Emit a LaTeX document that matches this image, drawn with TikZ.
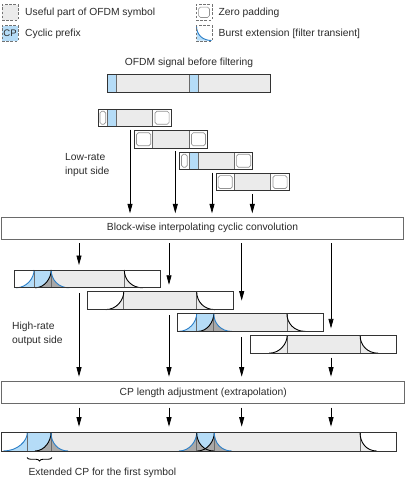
\documentclass[tikz,border=0pt]{standalone}
\usepackage{fontspec}
\setmainfont{Liberation Sans}
\usetikzlibrary{arrows.meta,decorations.pathreplacing}
\definecolor{lgrey}{HTML}{EBEBEB}
\definecolor{dgrey}{HTML}{A8A8A8}
\definecolor{lblue}{HTML}{B5DCF7}
\definecolor{bline}{HTML}{2B7FC8}
\definecolor{bord}{HTML}{333333}
\definecolor{divc}{HTML}{6A6A6A}
\definecolor{txtc}{HTML}{2A2A2A}
\def\hh{17.8}
\newcommand\RiseCurve[3]{\path[#3] (#1,\hh) .. controls ({#1+0.6*(#2-#1)},\hh) and (#2,{0.45*\hh}) .. (#2,0);}
\newcommand\RiseArea[3]{\fill[#3] (#1,\hh) .. controls ({#1+0.6*(#2-#1)},\hh) and (#2,{0.45*\hh}) .. (#2,0) -- (#2,\hh) -- cycle;}
\newcommand\FallCurve[3]{\path[#3] (#1,0) .. controls (#1,{0.55*\hh}) and ({#1+0.4*(#2-#1)},\hh) .. (#2,\hh);}
\newcommand\FallArea[3]{\fill[#3] (#1,0) .. controls (#1,{0.55*\hh}) and ({#1+0.4*(#2-#1)},\hh) .. (#2,\hh) -- (#1,\hh) -- cycle;}
\newcommand\LRA{%
 \fill[white] (0,0) rectangle (73.2,17.5);
 \fill[lblue] (9.6,0) rectangle (18.4,17.5);
 \fill[lgrey] (18.4,0) rectangle (54.8,17.5);
 \draw[div] (9.6,0) -- (9.6,17.5) (18.4,0) -- (18.4,17.5) (54.8,0) -- (54.8,17.5);
 \draw[zpin] (1.9,2.3) rectangle (7.7,15.2);
 \draw[zpin] (57,2.3) rectangle (71.1,15.2);
}
\newcommand\LRB{%
 \fill[white] (0,0) rectangle (73.2,17.5);
 \fill[lgrey] (18.4,0) rectangle (54.8,17.5);
 \draw[div] (18.4,0) -- (18.4,17.5) (54.8,0) -- (54.8,17.5);
 \draw[zpin] (2.1,2.3) rectangle (16.3,15.2);
 \draw[zpin] (57,2.3) rectangle (71.1,15.2);
}
\newcommand\HRA{%
 \fill[white] (0,0) rectangle (146,\hh);
 \fill[lblue] (19.4,0) rectangle (36.5,\hh);
 \fill[lgrey] (36.5,0) rectangle (109.6,\hh);
 \RiseArea{1.3}{19.4}{lblue}
 \RiseArea{20.5}{36.5}{dgrey}
 \FallArea{36.5}{54.5}{dgrey}
 \FallArea{109.6}{128}{lgrey}
 \draw[div] (19.4,0) -- (19.4,\hh) (36.5,0) -- (36.5,\hh) (109.6,0) -- (109.6,\hh);
 \RiseCurve{1.3}{19.4}{bcurve}
 \RiseCurve{20.5}{36.5}{kcurve}
 \FallCurve{36.5}{54.5}{bcurve}
 \FallCurve{109.6}{128}{kcurve}
}
\newcommand\HRB{%
 \fill[white] (0,0) rectangle (146,\hh);
 \fill[lgrey] (36.5,0) rectangle (109.4,\hh);
 \RiseArea{18.5}{36.5}{lgrey}
 \FallArea{109.4}{127.5}{lgrey}
 \draw[div] (36.5,0) -- (36.5,\hh) (109.4,0) -- (109.4,\hh);
 \RiseCurve{18.5}{36.5}{kcurve}
 \FallCurve{109.4}{127.5}{kcurve}
}
\begin{document}
\begin{tikzpicture}[x=1pt,y=-1pt,
  blk/.style={draw=bord, line width=1pt, inner sep=0pt, outer sep=0pt, anchor=north west},
  procbox/.style={draw=divc, line width=0.9pt, inner sep=0pt, outer sep=0pt, anchor=north west, font=\fontsize{10.3}{12.5}\selectfont, text=txtc},
  div/.style={draw=divc, line width=0.7pt},
  zpin/.style={draw=gray!85, fill=white, rounded corners=1.8pt, line width=0.7pt},
  bcurve/.style={draw=bline, line width=0.9pt},
  kcurve/.style={draw=black, line width=0.9pt},
  leg/.style={draw=gray!90!black, line width=0.8pt, dash pattern=on 2.6pt off 1.6pt, inner sep=0pt, outer sep=0pt, anchor=north west, minimum width=16pt, minimum height=15.5pt},
  lbl/.style={font=\fontsize{10.3}{13.5}\selectfont, text=txtc, inner sep=0pt},
  arr/.style={draw=black, line width=0.75pt, -{Triangle[length=9.5pt,width=5pt]}}]
\useasboundingbox (0,0) rectangle (407,485);
% ---------- legend
\node[leg, fill=lgrey] (legU) at (2,4.5) {};
\node[lbl, anchor=west] (tU) at (25,12.7) {Useful part of OFDM symbol};
\node[leg, fill=lblue, font=\fontsize{9.5}{10}\selectfont, text=txtc] (legC) at (2,25.5) {CP};
\node[lbl, anchor=west] (tC) at (25,33.6) {Cyclic prefix};
\node[leg, fill=white] (legZ) at (196,4.5) {};
\draw[zpin] ([shift={(2.6pt,-2.6pt)}]legZ.north west) rectangle ([shift={(-2.6pt,2.6pt)}]legZ.south east);
\node[lbl, anchor=west] (tZ) at (218.5,12.7) {Zero padding};
\fill[lblue] (196.5,26) .. controls (196.5,35) and (203,40.5) .. (211.5,40.5) -- (196.5,40.5) -- cycle;
\draw[bcurve] (196.5,26) .. controls (196.5,35) and (203,40.5) .. (211.5,40.5);
\node[leg] (legB) at (196,25.5) {};
\node[lbl, anchor=west] (tB) at (218.5,33.6) {Burst extension [filter transient]};
% ---------- top signal
\node[lbl] (ttop) at (189,63) {OFDM signal before filtering};
\begin{scope}[shift={(107.6,74)}]
 \fill[lblue] (0,0) rectangle (8.8,18.3);
 \fill[lgrey] (8.8,0) rectangle (81.6,18.3);
 \fill[lblue] (81.6,0) rectangle (90.4,18.3);
 \fill[lgrey] (90.4,0) rectangle (163.2,18.3);
 \draw[div] (8.8,0) -- (8.8,18.3) (81.6,0) -- (81.6,18.3) (90.4,0) -- (90.4,18.3);
\end{scope}
\node[blk, minimum width=163.2pt, minimum height=18.3pt] (top) at (107.6,74) {};
% ---------- low-rate blocks
\begin{scope}[shift={(98,109)}]\LRA\end{scope}
\node[blk, minimum width=73.2pt, minimum height=17.5pt] (lr1) at (98,109) {};
\begin{scope}[shift={(134.4,130.5)}]\LRB\end{scope}
\node[blk, minimum width=73.2pt, minimum height=17.5pt] (lr2) at (134.4,130.5) {};
\begin{scope}[shift={(179.6,152)}]\LRA\end{scope}
\node[blk, minimum width=73.2pt, minimum height=17.5pt] (lr3) at (179.6,152) {};
\begin{scope}[shift={(216,173.3)}]\LRB\end{scope}
\node[blk, minimum width=73.2pt, minimum height=17.5pt] (lr4) at (216,173.3) {};
\node[lbl, anchor=west, align=left] (tlow) at (65,165) {Low-rate\\input side};
% ---------- convolution box
\node[procbox, minimum width=401.6pt, minimum height=22pt] (conv) at (1.7,217.3) {Block-wise interpolating cyclic convolution};
% ---------- high-rate blocks
\begin{scope}[shift={(14.7,270)}]\HRA\end{scope}
\node[blk, minimum width=146pt, minimum height=17.8pt] (hr1) at (14.7,270) {};
\begin{scope}[shift={(87.3,291.8)}]\HRB\end{scope}
\node[blk, minimum width=146pt, minimum height=17.8pt] (hr2) at (87.3,291.8) {};
\begin{scope}[shift={(177.3,313.6)}]\HRA\end{scope}
\node[blk, minimum width=146pt, minimum height=17.8pt] (hr3) at (177.3,313.6) {};
\begin{scope}[shift={(250.7,335.4)}]\HRB\end{scope}
\node[blk, minimum width=146pt, minimum height=17.8pt] (hr4) at (250.7,335.4) {};
\node[lbl, anchor=west, align=left] (thigh) at (12,334) {High-rate\\output side};
% ---------- CP adjustment box
\node[procbox, minimum width=403pt, minimum height=21.6pt] (cpa) at (1.7,381.7) {CP length adjustment (extrapolation)};
% ---------- final bar
\begin{scope}[shift={(1.7,432.7)}]
 \def\hh{18.3}
 \fill[white] (0,0) rectangle (395,\hh);
 \fill[lgrey] (49.3,0) rectangle (358.3,\hh);
 \fill[lblue] (25.6,0) rectangle (49.3,\hh);
 \fill[lblue] (195,0) rectangle (212.6,\hh);
 \RiseArea{1.6}{25.6}{lblue}
 \RiseArea{33.3}{49.3}{dgrey}
 \FallArea{49.3}{66.5}{dgrey}
 \RiseArea{177.3}{195}{dgrey}
 \RiseArea{195.6}{212.6}{dgrey}
 \FallArea{195}{212.2}{dgrey}
 \FallArea{212.6}{230}{dgrey}
 \FallArea{358.3}{375}{lgrey}
 \draw[div] (25.6,0) -- (25.6,\hh) (49.3,0) -- (49.3,\hh) (195,0) -- (195,\hh) (212.6,0) -- (212.6,\hh) (358.3,0) -- (358.3,\hh);
 \RiseCurve{1.6}{25.6}{bcurve}
 \RiseCurve{33.3}{49.3}{kcurve}
 \FallCurve{49.3}{66.5}{bcurve}
 \RiseCurve{177.3}{195}{bcurve}
 \RiseCurve{195.6}{212.6}{kcurve}
 \FallCurve{195}{212.2}{kcurve}
 \FallCurve{212.6}{230}{bcurve}
 \FallCurve{358.3}{375}{kcurve}
\end{scope}
\node[blk, minimum width=395pt, minimum height=18.3pt] (fin) at (1.7,432.7) {};
\coordinate (bl) at (27,457.5);
\coordinate (br) at (52,457.5);
\draw[decorate, decoration={brace, mirror, amplitude=3.5pt}, line width=0.9pt] (bl) -- (br);
\node[lbl, anchor=west] (text) at (28.3,473.3) {Extended CP for the first symbol};
% ---------- arrow columns
\coordinate (ua) at (130,0);
\coordinate (ub) at (175.3,0);
\coordinate (uc) at (212,0);
\coordinate (ud) at (252.3,0);
\coordinate (ma) at (79,0);
\coordinate (mb) at (169,0);
\coordinate (mc) at (241.7,0);
\coordinate (md) at (331,0);
% upper arrows
\draw[arr] ([yshift=-3pt]lr1.south -| ua) -- ([yshift=4pt]conv.north -| ua);
\draw[arr] ([yshift=-3pt]lr2.south -| ub) -- ([yshift=4pt]conv.north -| ub);
\draw[arr] ([yshift=-3pt]lr3.south -| uc) -- ([yshift=4pt]conv.north -| uc);
\draw[arr] ([yshift=-3pt]lr4.south -| ud) -- ([yshift=4pt]conv.north -| ud);
% middle arrows
\draw[arr] ([yshift=-4pt]conv.south -| ma) -- ([yshift=5pt]hr1.north -| ma);
\draw[arr] ([yshift=-4pt]conv.south -| mb) -- ([yshift=7pt]hr2.north -| mb);
\draw[arr] ([yshift=-4pt]conv.south -| mc) -- ([yshift=13pt]hr3.north -| mc);
\draw[arr] ([yshift=-4pt]conv.south -| md) -- ([yshift=7pt]hr4.north -| md);
% lower arrows
\draw[arr] ([yshift=-5.5pt]hr1.south -| ma) -- ([yshift=5pt]cpa.north -| ma);
\draw[arr] ([yshift=-5.5pt]hr2.south -| mb) -- ([yshift=5pt]cpa.north -| mb);
\draw[arr] ([yshift=-5.5pt]hr3.south -| mc) -- ([yshift=5pt]cpa.north -| mc);
\draw[arr] ([yshift=-4.5pt]hr4.south -| md) -- ([yshift=5pt]cpa.north -| md);
% bottom arrows
\draw[arr] ([yshift=-4.4pt]cpa.south -| ma) -- ([yshift=6pt]fin.north -| ma);
\draw[arr] ([yshift=-4.4pt]cpa.south -| mb) -- ([yshift=6pt]fin.north -| mb);
\draw[arr] ([yshift=-4.4pt]cpa.south -| mc) -- ([yshift=6pt]fin.north -| mc);
\draw[arr] ([yshift=-4.4pt]cpa.south -| md) -- ([yshift=6pt]fin.north -| md);
\end{tikzpicture}
\end{document}
